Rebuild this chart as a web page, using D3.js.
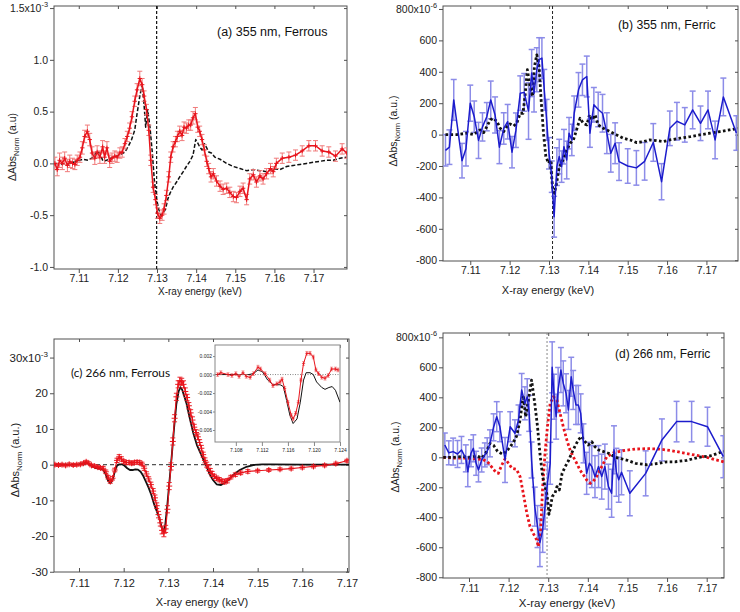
<!DOCTYPE html>
<html><head><meta charset="utf-8">
<script src="https://cdn.jsdelivr.net/npm/d3@7"></script>
<style>body{margin:0;background:#fff}</style>
</head><body><script>
// ---------------- DATA ----------------
const xTicks = [7.11, 7.12, 7.13, 7.14, 7.15, 7.16, 7.17];
const yTicksA = [-1.0, -0.5, 0, 0.5, 1.0, 1.5];
const yTicksB = [-800, -600, -400, -200, 0, 200, 400, 600, 800];
const yTicksC = [-30, -20, -10, 0, 10, 20, 30];
const yTicksD = [-800, -600, -400, -200, 0, 200, 400, 600, 800];
const insetXTicks = [7.108, 7.112, 7.116, 7.120, 7.124];
const insetYTicks = [-0.006, -0.004, -0.002, 0, 0.002];
const panelTitles = ["(a) 355 nm, Ferrous", "(b) 355 nm, Ferric", "(c) 266 nm, Ferrous", "(d) 266 nm, Ferric"];
const edgeLines = {a: 7.1299, b: 7.1309, d: 7.1297};

// (a) 355 nm ferrous: [keV, value x1e-3, error]
const a355Exp = [
[7.1039,0.00,0.06],[7.1045,-0.06,0.06],[7.1051,0.03,0.07],[7.1058,0.00,0.06],[7.1064,0.05,0.06],
[7.1071,-0.02,0.06],[7.1077,0.02,0.06],[7.1084,0.00,0.05],[7.1090,-0.01,0.05],[7.1096,0.03,0.05],
[7.1103,0.06,0.05],[7.1109,0.15,0.06],[7.1115,0.26,0.06],[7.1122,0.31,0.06],[7.1128,0.23,0.06],
[7.1134,0.10,0.06],[7.1141,0.05,0.06],[7.1147,0.11,0.06],[7.1154,0.06,0.06],[7.1161,0.16,0.06],
[7.1166,0.06,0.06],[7.1172,0.15,0.06],[7.1179,0.02,0.06],[7.1185,0.05,0.05],[7.1192,0.07,0.05],
[7.1198,0.06,0.05],[7.1205,0.10,0.05],[7.1211,0.11,0.05],[7.1218,0.19,0.05],[7.1224,0.26,0.05],
[7.1230,0.34,0.05],[7.1236,0.45,0.05],[7.1243,0.60,0.05],[7.1249,0.71,0.06],[7.1256,0.82,0.07],
[7.1262,0.76,0.06],[7.1267,0.65,0.05],[7.1273,0.52,0.05],[7.1279,0.32,0.05],[7.1284,0.03,0.05],
[7.1290,-0.23,0.05],[7.1296,-0.35,0.05],[7.1301,-0.48,0.05],[7.1307,-0.53,0.05],[7.1313,-0.50,0.05],
[7.1318,-0.44,0.05],[7.1324,-0.31,0.05],[7.1330,-0.13,0.05],[7.1335,0.06,0.05],[7.1341,0.16,0.05],
[7.1347,0.21,0.05],[7.1352,0.26,0.05],[7.1358,0.31,0.05],[7.1364,0.27,0.05],[7.1369,0.35,0.05],
[7.1375,0.34,0.05],[7.1381,0.37,0.05],[7.1386,0.37,0.05],[7.1392,0.44,0.06],[7.1398,0.48,0.06],
[7.1404,0.35,0.05],[7.1409,0.31,0.05],[7.1415,0.23,0.05],[7.1421,0.13,0.05],[7.1427,0.02,0.05],
[7.1432,-0.05,0.05],[7.1438,-0.13,0.05],[7.1444,-0.10,0.05],[7.1452,-0.17,0.05],[7.1461,-0.22,0.05],
[7.1469,-0.25,0.05],[7.1478,-0.24,0.05],[7.1486,-0.28,0.05],[7.1495,-0.32,0.05],[7.1503,-0.33,0.05],
[7.1512,-0.27,0.05],[7.1520,-0.24,0.05],[7.1529,-0.35,0.05],[7.1537,-0.15,0.05],[7.1546,-0.11,0.05],
[7.1554,-0.18,0.05],[7.1563,-0.12,0.05],[7.1571,-0.15,0.05],[7.1580,-0.10,0.05],[7.1590,-0.05,0.05],
[7.1597,-0.08,0.05],[7.1605,0.00,0.05],[7.1620,0.05,0.05],[7.1637,0.06,0.05],[7.1654,0.08,0.05],
[7.1671,0.12,0.05],[7.1688,0.17,0.05],[7.1705,0.17,0.05],[7.1722,0.12,0.05],[7.1739,0.11,0.05],
[7.1756,0.07,0.05],[7.1773,0.14,0.05],[7.1785,0.10,0.05]];
const a355Ref = [
[7.1039,0.00],[7.1068,-0.01],[7.1094,0.02],[7.1111,0.04],[7.1124,0.03],[7.1137,0.06],[7.1145,0.11],
[7.1154,0.10],[7.1162,0.02],[7.1171,0.03],[7.1188,0.06],[7.1205,0.08],[7.1218,0.11],[7.1226,0.16],
[7.1235,0.23],[7.1243,0.32],[7.1249,0.48],[7.1256,0.65],[7.1262,0.76],[7.1266,0.61],[7.1271,0.35],
[7.1276,0.52],[7.1282,0.35],[7.1288,0.10],[7.1293,-0.16],[7.1299,-0.35],[7.1305,-0.45],[7.1310,-0.50],
[7.1316,-0.48],[7.1322,-0.44],[7.1327,-0.35],[7.1333,-0.29],[7.1341,-0.23],[7.1350,-0.18],[7.1358,-0.13],
[7.1367,-0.08],[7.1375,-0.03],[7.1384,0.02],[7.1392,0.08],[7.1399,0.23],[7.1405,0.19],[7.1409,0.16],
[7.1415,0.13],[7.1421,0.19],[7.1427,0.15],[7.1432,0.11],[7.1439,0.10],[7.1448,0.06],[7.1461,0.04],
[7.1478,0.00],[7.1495,-0.03],[7.1512,-0.05],[7.1529,-0.07],[7.1546,-0.06],[7.1563,-0.07],[7.1580,-0.08],
[7.1597,-0.05],[7.1614,-0.06],[7.1631,-0.03],[7.1648,-0.02],[7.1665,-0.01],[7.1682,0.00],[7.1699,0.01],
[7.1716,0.02],[7.1733,0.03],[7.1750,0.03],[7.1768,0.05],[7.1785,0.06]];

// (b) 355 nm ferric: [keV, value x1e-6, error]
const b355Exp = [
[7.1037,-100,100],[7.1047,-80,110],[7.1058,221,130],[7.1079,-166,110],[7.1089,-90,110],[7.1100,200,115],
[7.1110,114,100],[7.1121,-37,115],[7.1131,49,90],[7.1142,114,90],[7.1152,221,120],[7.1163,125,115],
[7.1174,-80,105],[7.1185,39,100],[7.1195,82,110],[7.1206,-112,100],[7.1216,28,110],[7.1227,264,110],
[7.1237,269,120],[7.1248,150,180],[7.1256,392,150],[7.1262,264,120],[7.1269,413,140],[7.1275,477,140],
[7.1282,487,130],[7.1288,285,130],[7.1294,94,130],[7.1300,-119,100],[7.1307,-268,100],[7.1313,-523,130],
[7.1320,-204,120],[7.1326,-140,110],[7.1332,-204,100],[7.1338,-77,110],[7.1345,-162,120],[7.1351,9,100],
[7.1358,-34,100],[7.1364,136,110],[7.1375,285,110],[7.1385,349,100],[7.1396,370,130],[7.1404,9,90],
[7.1414,190,110],[7.1425,160,110],[7.1436,136,120],[7.1447,9,130],[7.1457,-119,120],[7.1468,-55,130],
[7.1478,-172,120],[7.1500,-200,110],[7.1522,-212,110],[7.1543,-170,120],[7.1565,-50,120],[7.1586,-300,115],
[7.1607,40,110],[7.1625,85,120],[7.1645,62,110],[7.1665,157,120],[7.1685,72,110],[7.1704,157,120],
[7.1722,-34,120],[7.1743,240,120],[7.1776,10,110]];
const b355Ref = [
[7.1037,0],[7.1066,0],[7.1092,9],[7.1108,0],[7.1125,30],[7.1134,13],[7.1142,51],[7.1151,94],[7.1159,104],
[7.1168,83],[7.1176,40],[7.1185,19],[7.1193,51],[7.1201,68],[7.1210,55],[7.1218,72],[7.1227,136],[7.1234,136],
[7.1239,243],[7.1245,413],[7.1252,306],[7.1258,243],[7.1263,434],[7.1269,508],[7.1275,434],[7.1280,221],
[7.1286,9],[7.1292,-140],[7.1299,-183],[7.1303,-162],[7.1309,-332],[7.1314,-374],[7.1320,-300],[7.1326,-204],
[7.1332,-183],[7.1339,-140],[7.1345,-98],[7.1354,-55],[7.1362,-34],[7.1370,30],[7.1379,104],[7.1387,72],
[7.1396,62],[7.1403,126],[7.1409,94],[7.1417,126],[7.1425,62],[7.1438,40],[7.1455,19],[7.1472,-2],
[7.1489,-23],[7.1506,-34],[7.1523,-51],[7.1540,-45],[7.1556,-34],[7.1573,-38],[7.1590,-45],[7.1607,-34],
[7.1633,-23],[7.1659,-13],[7.1683,-2],[7.1709,9],[7.1734,19],[7.1759,30],[7.1780,40]];

// (c) 266 nm ferrous: [keV, value x1e-3, error]
const c266Exp = [
[7.1046,0.0,0.4],[7.1054,-0.1,0.4],[7.1062,0.0,0.4],[7.1070,-0.2,0.4],[7.1078,0.1,0.4],[7.1087,-0.1,0.4],
[7.1095,0.0,0.4],[7.1103,0.1,0.4],[7.1110,0.4,0.4],[7.1116,0.8,0.4],[7.1122,0.4,0.4],[7.1128,-0.2,0.4],
[7.1135,-0.4,0.4],[7.1142,-0.7,0.4],[7.1148,-0.9,0.4],[7.1154,-1.0,0.5],[7.1160,-2.0,0.5],[7.1165,-3.5,0.5],
[7.1170,-4.7,0.5],[7.1175,-3.8,0.5],[7.1180,-1.5,0.5],[7.1185,1.2,0.6],[7.1190,2.2,0.6],[7.1195,1.6,0.6],
[7.1200,0.9,0.5],[7.1206,0.6,0.5],[7.1212,0.6,0.5],[7.1218,0.4,0.5],[7.1224,0.6,0.5],[7.1230,0.7,0.5],
[7.1236,0.6,0.5],[7.1241,0.2,0.5],[7.1246,-1.0,0.6],[7.1251,-2.6,0.6],[7.1256,-4.0,0.6],[7.1261,-5.6,0.7],
[7.1266,-7.4,0.7],[7.1270,-9.3,0.8],[7.1274,-11.5,0.8],[7.1278,-14.0,0.9],[7.1282,-16.3,0.9],[7.1286,-18.4,1.0],
[7.1290,-19.2,1.0],[7.1294,-18.0,1.0],[7.1298,-12.5,1.0],[7.1302,-6.0,1.0],[7.1306,-0.5,1.0],[7.1310,6.5,1.0],
[7.1314,13.0,1.0],[7.1318,19.0,1.0],[7.1322,22.5,1.0],[7.1326,23.5,1.0],[7.1330,23.2,1.0],[7.1334,22.5,1.0],
[7.1338,20.5,1.0],[7.1342,18.8,0.9],[7.1346,16.5,0.9],[7.1350,14.5,0.9],[7.1354,12.5,0.9],[7.1358,10.5,0.8],
[7.1362,9.0,0.8],[7.1366,7.8,0.8],[7.1370,6.2,0.8],[7.1374,4.6,0.8],[7.1378,2.8,0.7],[7.1382,1.2,0.7],
[7.1386,0.0,0.7],[7.1390,-1.0,0.7],[7.1394,-1.8,0.7],[7.1398,-2.6,0.7],[7.1403,-3.3,0.6],[7.1408,-3.8,0.6],
[7.1414,-4.2,0.6],[7.1420,-4.6,0.6],[7.1426,-4.8,0.6],[7.1432,-4.5,0.6],[7.1440,-3.5,0.5],[7.1450,-2.8,0.5],
[7.1462,-2.3,0.5],[7.1478,-1.9,0.5],[7.1500,-1.7,0.4],[7.1525,-1.5,0.4],[7.1550,-1.3,0.4],[7.1575,-1.1,0.4],
[7.1600,-0.8,0.4],[7.1625,-0.5,0.4],[7.1650,-0.2,0.4],[7.1675,0.3,0.4],[7.1700,1.1,0.4]];
const c266Ref = [
[7.1044,0],[7.1080,0],[7.1100,0.1],[7.1110,0.4],[7.1116,0.6],[7.1122,0.2],[7.1130,-0.5],[7.1138,-1.0],
[7.1146,-1.1],[7.1154,-1.4],[7.1160,-2.8],[7.1165,-4.5],[7.1170,-5.2],[7.1175,-4.3],[7.1180,-2.0],[7.1185,-0.3],
[7.1190,0.1],[7.1196,0.1],[7.1202,-0.3],[7.1208,-1.0],[7.1214,-1.5],[7.1220,-1.5],[7.1226,-1.3],[7.1232,-1.4],
[7.1238,-2.0],[7.1244,-3.2],[7.1250,-4.8],[7.1256,-6.5],[7.1262,-8.5],[7.1268,-11.0],[7.1274,-13.0],[7.1280,-15.0],
[7.1286,-18.0],[7.1289,-18.7],[7.1293,-17.0],[7.1298,-11.0],[7.1303,-4.0],[7.1308,3.0],[7.1313,10.5],[7.1318,17.0],
[7.1323,20.5],[7.1327,21.7],[7.1331,21.0],[7.1336,19.0],[7.1341,17.0],[7.1348,13.0],[7.1356,8.8],[7.1364,5.5],
[7.1371,3.5],[7.1380,1.0],[7.1386,-0.6],[7.1393,-2.8],[7.1400,-4.3],[7.1408,-5.5],[7.1418,-5.7],[7.1430,-4.8],
[7.1445,-2.9],[7.1460,-1.5],[7.1475,-0.6],[7.1490,-0.1],[7.1510,0.1],[7.1530,0.1],[7.1600,0],[7.1705,0]];
// (c) inset: [keV, value, error]
const cInsetExp = [
[7.1052,0.0000,0.0002],[7.1057,0.0002,0.0002],[7.1068,0.0000,0.0002],[7.1074,-0.0001,0.0002],[7.1080,0.0001,0.0002],
[7.1085,-0.0002,0.0002],[7.1091,0.0002,0.0002],[7.1096,-0.0002,0.0002],[7.1102,-0.0003,0.0002],[7.1107,0.0001,0.0002],
[7.1114,0.0008,0.0002],[7.1118,0.0006,0.0002],[7.1125,0.0001,0.0002],[7.1132,-0.0006,0.0002],[7.1137,-0.0012,0.0002],
[7.1143,-0.0010,0.0002],[7.1148,-0.0008,0.0002],[7.1151,-0.0005,0.0002],[7.1155,-0.0015,0.0002],[7.1160,-0.0030,0.0002],
[7.1165,-0.0044,0.0002],[7.1168,-0.0048,0.0002],[7.1172,-0.0042,0.0002],[7.1176,-0.0030,0.0002],[7.1180,-0.0006,0.0002],
[7.1184,0.0012,0.0002],[7.1189,0.0023,0.0002],[7.1194,0.0023,0.0002],[7.1199,0.0019,0.0002],[7.1203,0.0005,0.0002],
[7.1207,0.0001,0.0002],[7.1212,-0.0003,0.0002],[7.1217,-0.0004,0.0002],[7.1222,-0.0001,0.0002],[7.1227,0.0006,0.0002],
[7.1233,0.0006,0.0002],[7.1237,0.0005,0.0002]];
const cInsetRef = [
[7.1050,0],[7.1100,0],[7.1107,0.0001],[7.1114,0.0005],[7.1121,0.0003],[7.1129,-0.0006],[7.1137,-0.0011],
[7.1148,-0.0011],[7.1153,-0.0013],[7.1158,-0.0028],[7.1163,-0.0044],[7.1168,-0.0053],[7.1174,-0.0048],
[7.1179,-0.0030],[7.1184,-0.0006],[7.1188,0.0002],[7.1194,0.0002],[7.1199,0.0000],[7.1204,-0.0008],
[7.1212,-0.0014],[7.1217,-0.0016],[7.1223,-0.0014],[7.1228,-0.0013],[7.1233,-0.0017],[7.1240,-0.0030]];

// (d) 266 nm ferric: [keV, value x1e-6, error]
const d266Exp = [
[7.1039,82,80],[7.1049,30,80],[7.1060,38,90],[7.1071,22,90],[7.1081,49,90],[7.1092,-7,90],[7.1097,-96,100],
[7.1105,27,90],[7.1111,60,90],[7.1118,-40,80],[7.1124,-84,80],[7.1132,-18,80],[7.1140,16,80],[7.1146,40,90],
[7.1153,93,90],[7.1162,200,90],[7.1170,271,100],[7.1178,204,100],[7.1191,-18,150],[7.1204,204,100],
[7.1216,160,90],[7.1225,249,100],[7.1233,449,110],[7.1241,360,110],[7.1247,404,120],[7.1252,293,120],
[7.1258,-18,120],[7.1266,-329,130],[7.1273,-462,140],[7.1279,-569,160],[7.1286,-484,150],[7.1292,-329,150],
[7.1298,-173,140],[7.1305,-40,140],[7.1310,600,170],[7.1315,404,150],[7.1320,271,150],[7.1325,449,150],
[7.1332,582,150],[7.1338,493,150],[7.1345,427,130],[7.1351,316,130],[7.1358,537,130],[7.1363,449,130],
[7.1370,349,130],[7.1376,349,130],[7.1382,293,130],[7.1389,93,130],[7.1397,-107,140],[7.1404,-40,140],
[7.1410,-62,140],[7.1418,-129,140],[7.1427,-62,140],[7.1435,-129,150],[7.1443,-62,150],[7.1452,-196,150],
[7.1460,-240,160],[7.1466,50,160],[7.1472,-100,160],[7.1478,-150,150],[7.1485,-100,150],[7.1506,-240,150],
[7.1546,-107,150],[7.1587,116,140],[7.1624,238,135],[7.1662,238,135],[7.1702,204,130],[7.1742,4,140]];
const d266RefBlack = [
[7.1035,0],[7.1060,0],[7.1085,5],[7.1105,0],[7.1120,10],[7.1132,-5],[7.1142,25],[7.1153,93],[7.1162,80],
[7.1172,40],[7.1185,20],[7.1195,40],[7.1204,71],[7.1212,100],[7.1220,140],[7.1229,249],[7.1237,413],[7.1243,270],
[7.1250,382],[7.1258,515],[7.1266,360],[7.1273,204],[7.1279,27],[7.1286,-129],[7.1292,-196],[7.1297,-250],
[7.1302,-380],[7.1306,-330],[7.1310,-262],[7.1317,-240],[7.1322,-196],[7.1328,-218],[7.1335,-107],[7.1343,-62],
[7.1352,-18],[7.1359,27],[7.1367,71],[7.1376,116],[7.1384,140],[7.1393,104],[7.1401,82],[7.1410,104],[7.1418,71],
[7.1427,49],[7.1440,38],[7.1452,27],[7.1470,0],[7.1500,-20],[7.1520,-40],[7.1550,-50],[7.1580,-40],[7.1600,-30],
[7.1620,-30],[7.1650,-20],[7.1680,0],[7.1710,10],[7.1743,40]];
const d266RefRed = [
[7.1035,0],[7.1060,-5],[7.1090,-5],[7.1115,-10],[7.1135,-15],[7.1147,-30],[7.1156,-60],[7.1165,-90],[7.1174,-107],
[7.1183,-50],[7.1191,-10],[7.1200,-40],[7.1208,-73],[7.1220,-80],[7.1229,-129],[7.1237,-240],[7.1246,-373],
[7.1254,-462],[7.1262,-507],[7.1271,-551],[7.1275,-596],[7.1281,-484],[7.1286,-196],[7.1292,27],[7.1298,204],
[7.1305,360],[7.1313,404],[7.1322,382],[7.1330,293],[7.1338,204],[7.1347,116],[7.1355,49],[7.1363,4],[7.1372,-40],
[7.1380,-84],[7.1389,-118],[7.1397,-151],[7.1406,-173],[7.1414,-160],[7.1422,-129],[7.1435,-62],[7.1448,4],
[7.1465,30],[7.1490,45],[7.1520,55],[7.1550,58],[7.1580,55],[7.1610,45],[7.1640,30],[7.1670,15],[7.1700,0],
[7.1720,-15],[7.1743,-30]];

// ---------------- DRAWING ----------------
const FONT = '"Liberation Sans", Arial, Helvetica, sans-serif';
const AX = '#505050';
const RED = '#e8141c', RED_ERR = '#f07a7a';
const BLUE = '#1c1ccc', BLUE_ERR = '#8c8ce8';
const svg = d3.select('body').append('svg').attr('width', 740).attr('height', 612)
  .style('font-family', FONT);
const defs = svg.append('defs');
const minus = v => String(v).replace('\u2212', '-');

function panel(o) {
  const x = d3.scaleLinear().domain(o.xd).range([o.l, o.r]);
  const y = d3.scaleLinear().domain(o.yd).range([o.b, o.t]);
  const g = svg.append('g');
  defs.append('clipPath').attr('id', 'clip-' + o.id).append('rect')
    .attr('x', o.l).attr('y', o.t).attr('width', o.r - o.l).attr('height', o.b - o.t);
  g.append('g').attr('transform', `translate(0,${o.t})`)
    .call(d3.axisTop(x).tickValues(o.xt).tickSize(-3).tickSizeOuter(0).tickFormat(''));
  g.append('g').attr('transform', `translate(${o.r},0)`)
    .call(d3.axisRight(y).tickValues(o.yt).tickSize(-3).tickSizeOuter(0).tickFormat(''));
  const bx = g.append('g').attr('transform', `translate(0,${o.b})`)
    .call(d3.axisBottom(x).tickValues(o.xt).tickFormat(o.xf).tickSize(o.xIn ? -4 : 4)
      .tickSizeOuter(0).tickPadding(o.xPad));
  const ly = g.append('g').attr('transform', `translate(${o.l},0)`)
    .call(d3.axisLeft(y).tickValues(o.yt).tickFormat(o.yf).tickSize(o.yTick || 4)
      .tickSizeOuter(0).tickPadding(o.yPad));
  g.selectAll('.domain').remove();
  g.selectAll('.tick line').attr('stroke', AX);
  g.selectAll('text').attr('font-family', o.font || FONT).attr('fill', '#222');
  bx.selectAll('text').attr('font-size', o.xfs);
  ly.selectAll('text').attr('font-size', o.yfs);
  if (o.exp) {
    const top = o.yt[o.yt.length - 1];
    const t = ly.selectAll('.tick').filter(d => d === top).select('text');
    t.text(o.yf(top) + 'x10');
    t.append('tspan').attr('dy', -5).attr('font-size', o.yfs * 0.7).text(o.exp);
  }
  g.append('rect').attr('x', o.l).attr('y', o.t).attr('width', o.r - o.l).attr('height', o.b - o.t)
    .attr('fill', o.fill || 'none').attr('stroke', o.frame || AX).attr('stroke-width', 1);
  const plot = svg.append('g').attr('clip-path', `url(#clip-${o.id})`);
  return {x, y, plot, g, o};
}

function xTitle(cx, cy, fs) {
  svg.append('text').attr('x', cx).attr('y', cy).attr('text-anchor', 'middle')
    .attr('font-size', fs).attr('fill', '#222').text('X-ray energy (keV)');
}
function yTitle(cx, cy, fs, unit) {
  const t = svg.append('text').attr('transform', `translate(${cx},${cy}) rotate(-90)`)
    .attr('text-anchor', 'middle').attr('font-size', fs).attr('fill', '#222');
  t.append('tspan').text('\u0394Abs');
  t.append('tspan').attr('dy', 3).attr('font-size', fs * 0.72).text('Norm');
  t.append('tspan').attr('dy', -3).text(' ' + unit);
}
function label(x, y, txt, fs, font) {
  svg.append('text').attr('x', x).attr('y', y).attr('font-size', fs)
    .attr('font-family', font || FONT).attr('fill', '#111').text(txt);
}
function drawLine(P, data, st) {
  P.plot.append('path').datum(data)
    .attr('d', d3.line().x(d => P.x(d[0])).y(d => P.y(d[1])))
    .attr('fill', 'none').attr('stroke', st.c).attr('stroke-width', st.w)
    .attr('stroke-dasharray', st.dash || null).attr('stroke-linejoin', 'round')
    .attr('stroke-linecap', st.cap || 'butt');
}
function errBars(P, data, c, w, cap) {
  const g = P.plot.append('g').attr('stroke', c).attr('stroke-width', w);
  data.forEach(d => {
    const xx = P.x(d[0]), y1 = P.y(d[1] - d[2]), y2 = P.y(d[1] + d[2]);
    g.append('line').attr('x1', xx).attr('x2', xx).attr('y1', y1).attr('y2', y2);
    g.append('line').attr('x1', xx - cap).attr('x2', xx + cap).attr('y1', y1).attr('y2', y1);
    g.append('line').attr('x1', xx - cap).attr('x2', xx + cap).attr('y1', y2).attr('y2', y2);
  });
}
function plus(P, data, c, s, w) {
  const g = P.plot.append('g').attr('stroke', c).attr('stroke-width', w);
  data.forEach(d => {
    const xx = P.x(d[0]), yy = P.y(d[1]);
    g.append('line').attr('x1', xx - s).attr('x2', xx + s).attr('y1', yy).attr('y2', yy);
    g.append('line').attr('x1', xx).attr('x2', xx).attr('y1', yy - s).attr('y2', yy + s);
  });
}
function vline(P, e, st) {
  P.plot.append('line').attr('x1', P.x(e)).attr('x2', P.x(e))
    .attr('y1', P.o.t).attr('y2', P.o.b).attr('stroke', st.c).attr('stroke-width', st.w)
    .attr('stroke-dasharray', st.dash);
}
function hline(P, v, st) {
  P.plot.append('line').attr('x1', P.o.l).attr('x2', P.o.r)
    .attr('y1', P.y(v)).attr('y2', P.y(v)).attr('stroke', st.c).attr('stroke-width', st.w)
    .attr('stroke-dasharray', st.dash);
}
const f2 = d => minus(d3.format('.2f')(d));

// ----- Panel (a)
const A = panel({id: 'a', l: 54, r: 347, t: 6, b: 269, xd: [7.10367, 7.17855], yd: [-1.02, 1.52],
  xt: xTicks, yt: yTicksA, xf: f2, yf: d => minus(d3.format('.1f')(d)), exp: '-3',
  xPad: 2, yPad: 2, xfs: 10.5, yfs: 10.5});
vline(A, edgeLines.a, {c: '#111', w: 1.2, dash: '3,2'});
drawLine(A, a355Ref, {c: '#111', w: 1.5, dash: '4,2'});
errBars(A, a355Exp, RED_ERR, 1, 2.5);
drawLine(A, a355Exp, {c: RED, w: 1.5});
plus(A, a355Exp, RED, 2.2, 1);
label(217, 36, panelTitles[0], 12.5);
xTitle(200, 295, 10);
yTitle(16, 147, 10.5, '(a.u)');

// ----- Panel (b)
const B = panel({id: 'b', l: 443, r: 738, t: 6, b: 261, xd: [7.10307, 7.17802], yd: [-805, 819],
  xt: xTicks, yt: yTicksB, xf: f2, yf: d => minus(String(d)), exp: '-6',
  xPad: 2, yPad: 2, xfs: 10.5, yfs: 10.5});
vline(B, edgeLines.b, {c: '#222', w: 1, dash: '3,2'});
errBars(B, b355Exp, BLUE_ERR, 1.5, 3);
drawLine(B, b355Ref, {c: '#111', w: 2.8, dash: '2.6,2.4'});
drawLine(B, b355Exp, {c: BLUE, w: 1.5});
label(618, 29, panelTitles[1], 12.3);
xTitle(548, 294, 11);
yTitle(397, 131, 10.5, '(a.u.)');

// ----- Panel (c)
const C = panel({id: 'c', l: 54, r: 349, t: 339, b: 572, xd: [7.1044, 7.17045], yd: [-30.07, 35.2],
  xt: xTicks, yt: yTicksC, xf: f2, yf: d => minus(String(d)), exp: '-3', xIn: true,
  xPad: 7, yPad: 2, xfs: 11, yfs: 11.5});
hline(C, 0, {c: '#555', w: 1.2, dash: '4,3'});
drawLine(C, c266Ref, {c: '#111', w: 1.8});
errBars(C, c266Exp, RED, 0.9, 2.5);
drawLine(C, c266Exp, {c: RED, w: 1.2});
plus(C, c266Exp, RED, 3, 1);
label(71, 377, panelTitles[2], 11.8, 'Lato, "Liberation Sans", sans-serif');
xTitle(202, 606, 11);
yTitle(19, 460, 11, '(a.u.)');

// inset
const I = panel({id: 'i', l: 215, r: 340, t: 345, b: 442, xd: [7.1048, 7.1240], yd: [-0.0073, 0.0032],
  xt: insetXTicks, yt: insetYTicks, xf: d => d3.format('.3f')(d), yf: d => minus(d3.format('.3f')(d)),
  xPad: 2, yPad: 1, yTick: 2, xfs: 5, yfs: 5, fill: '#fff', frame: '#888'});
I.g.selectAll('.tick line').attr('stroke', '#888');
hline(I, 0, {c: '#666', w: 0.8, dash: '1,1.5'});
drawLine(I, cInsetRef, {c: '#111', w: 1});
errBars(I, cInsetExp, RED_ERR, 0.7, 1.5);
drawLine(I, cInsetExp, {c: RED, w: 1});
plus(I, cInsetExp, RED, 1.6, 0.7);

// ----- Panel (d)
const D = panel({id: 'd', l: 443, r: 724, t: 333, b: 578, xd: [7.10344, 7.17437], yd: [-805, 829],
  xt: xTicks, yt: yTicksD, xf: f2, yf: d => minus(String(d)), exp: '-6',
  xPad: 3, yPad: 2, xfs: 10.5, yfs: 10.5});
vline(D, edgeLines.d, {c: '#888', w: 1, dash: '2,2'});
errBars(D, d266Exp, BLUE_ERR, 1.5, 3);
drawLine(D, d266RefRed, {c: RED, w: 2.8, dash: '2.6,2.4'});
drawLine(D, d266RefBlack, {c: '#111', w: 2.8, dash: '2.6,2.4'});
drawLine(D, d266Exp, {c: BLUE, w: 1.5});
label(615, 358, panelTitles[3], 12);
xTitle(567, 607, 11.5);
yTitle(399, 457, 10.5, '(a.u.)');
</script></body></html>
